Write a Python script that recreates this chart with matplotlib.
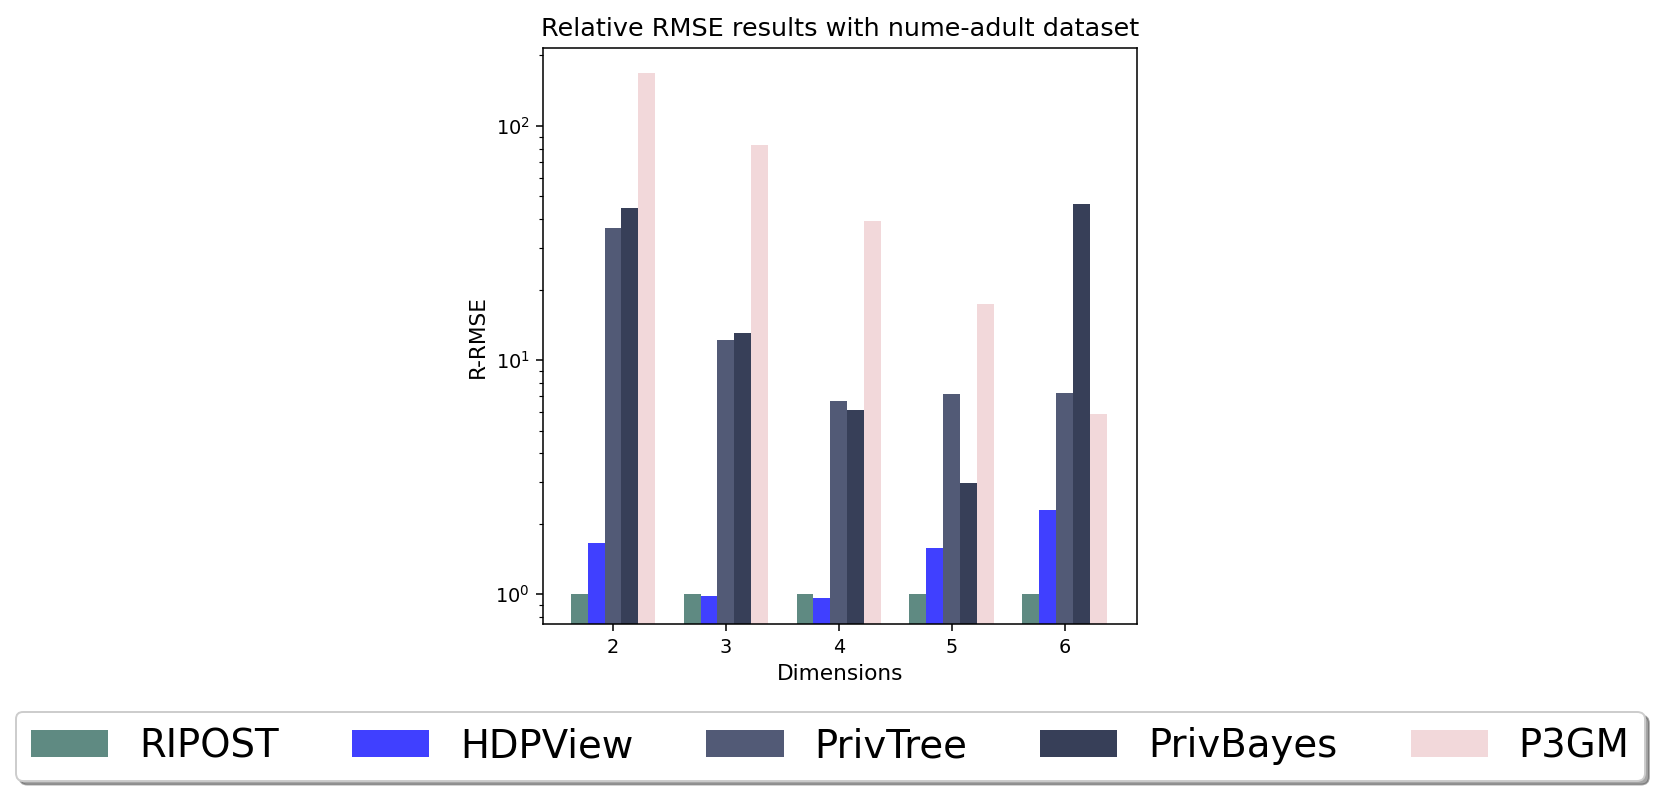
import matplotlib
matplotlib.use("Agg")
import matplotlib.pyplot as plt
import numpy as np

dimensions = [2, 3, 4, 5, 6]
methods = ["RIPOST", "HDPView", "PrivTree", "PrivBayes", "P3GM"]
ripost = [1.0, 1.0, 1.0, 1.0, 1.0]
hdpview = [1.65, 0.98, 0.96, 1.58, 2.28]
privtree = [36.8, 12.2, 6.7, 7.15, 7.25]
privbayes = [44.4, 13.0, 6.13, 2.99, 46.2]
p3gm = [168.0, 83.0, 39.2, 17.4, 5.88]
colors = ["#5f8a82", "#4040ff", "#525a76", "#373f58", "#f2d8da"]

series = [ripost, hdpview, privtree, privbayes, p3gm]

DPI = 139
fig = plt.figure(figsize=(1661 / DPI, 793 / DPI), dpi=DPI)
ax = fig.add_axes([543 / 1661, 1 - 624 / 793, (1137 - 543) / 1661, (624 - 48) / 793])

x = np.array(dimensions, dtype=float)
w = 0.15
for i, (name, vals, c) in enumerate(zip(methods, series, colors)):
    ax.bar(x + (i - 2) * w, vals, width=w, color=c, label=name)

ax.set_yscale("log")
ax.set_ylim(0.746, 215)
ax.set_xlim(1.38, 6.64)
ax.set_xticks(dimensions)
ax.set_xlabel("Dimensions", fontsize=11.2)
ax.set_ylabel("R-RMSE", fontsize=11.2)
ax.set_title("Relative RMSE results with nume-adult dataset", fontsize=13.2)

fig.legend(loc="center", bbox_to_anchor=(0.4999, 0.059), ncol=5, shadow=True,
           fancybox=True, fontsize=20, columnspacing=1.89)

fig.savefig("out.png", dpi=DPI)
